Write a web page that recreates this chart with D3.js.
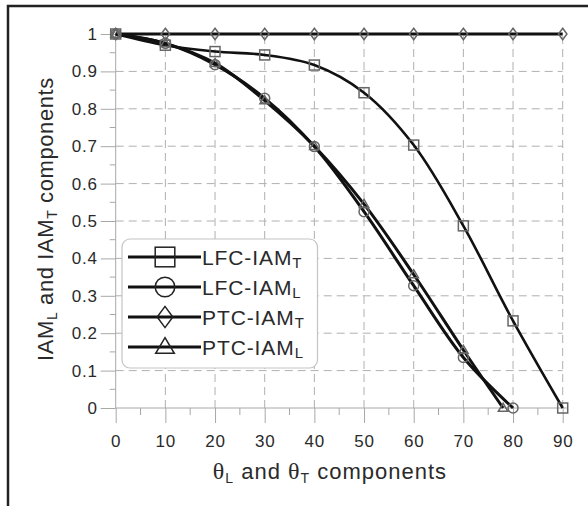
<!DOCTYPE html>
<meta charset="utf-8">
<style>
  body { margin: 0; background: #fff; }
  text { font-family: Arial, "Liberation Sans", sans-serif; fill: #2a2a2a; }
</style>
<body>
<svg width="588" height="506"></svg>
<script src="https://d3js.org/d3.v7.min.js"></script>
<script>
// data
const angles     = [0, 10, 20, 30, 40, 50, 60, 70, 80, 90];
const lfcT       = [1, 0.97, 0.953, 0.944, 0.917, 0.843, 0.703, 0.487, 0.233, 0];
const lfcLAngles = [0, 10, 20, 30, 40, 50, 60, 70, 80];
const lfcL       = [1, 0.975, 0.918, 0.828, 0.699, 0.525, 0.327, 0.135, 0];
const ptcT       = [1, 1, 1, 1, 1, 1, 1, 1, 1, 1];
const ptcLAngles = [0, 10, 20, 30, 40, 50, 60, 70, 78];
const ptcL       = [1, 0.975, 0.922, 0.822, 0.7, 0.545, 0.357, 0.155, 0];
const xTicks = [0, 10, 20, 30, 40, 50, 60, 70, 80, 90];
const yTicks = [0, 0.1, 0.2, 0.3, 0.4, 0.5, 0.6, 0.7, 0.8, 0.9, 1];

const svg = d3.select("svg");

// frame (only top and left edges are inside the picture)
svg.append("path")
  .attr("d", "M8,506V6H588")
  .attr("fill", "none")
  .attr("stroke", "#222")
  .attr("stroke-width", 2.5);

var x = d3.scaleLinear().domain([0, 90]).range([115.7, 562.7]);
var y = d3.scaleLinear().domain([0, 1]).range([408, 34]);

// grid
var grid = svg.append("g")
  .attr("stroke", "#b0b0b0")
  .attr("stroke-width", 1)
  .attr("stroke-dasharray", "8,5");
grid.selectAll("line.v")
  .data(xTicks.filter(d => d > 0))
  .enter().append("line")
    .attr("x1", d => x(d)).attr("x2", d => x(d))
    .attr("y1", y(0)).attr("y2", y(1));
grid.selectAll("line.h")
  .data(yTicks.filter(d => d > 0 && d < 1))
  .enter().append("line")
    .attr("x1", x(0)).attr("x2", x(90))
    .attr("y1", d => y(d)).attr("y2", d => y(d));

// axes
var xAxis = svg.append("g")
  .attr("transform", "translate(0," + y(0) + ")")
  .call(d3.axisBottom(x).tickValues(xTicks).tickSize(15).tickPadding(12).tickFormat(d3.format("d")));
xAxis.append("g").selectAll("line")
  .data(d3.range(5, 90, 10))
  .enter().append("line")
    .attr("x1", d => x(d)).attr("x2", d => x(d))
    .attr("y1", 0).attr("y2", 7);

var yAxis = svg.append("g")
  .attr("transform", "translate(" + x(0) + ",0)")
  .call(d3.axisLeft(y).tickValues(yTicks).tickSize(15).tickPadding(3).tickFormat(d => d === 0 || d === 1 ? d : d3.format(".1f")(d)));
yAxis.append("g").selectAll("line")
  .data(d3.range(0.05, 1, 0.1))
  .enter().append("line")
    .attr("x1", 0).attr("x2", -6)
    .attr("y1", d => y(d)).attr("y2", d => y(d));

[xAxis, yAxis].forEach(function(a) {
  a.attr("font-family", null);
  a.select(".domain").remove();
  a.selectAll("line").attr("stroke", "#a8a8a8");
  a.selectAll("text")
    .attr("fill", "#2a2a2a")
    .style("font-size", "17px")
    .style("letter-spacing", "0.8px");
});
svg.append("line")
  .attr("x1", x(0)).attr("x2", x(90) + 4)
  .attr("y1", y(0)).attr("y2", y(0))
  .attr("stroke", "#a8a8a8");
svg.append("line")
  .attr("x1", x(0)).attr("x2", x(0))
  .attr("y1", y(1)).attr("y2", y(0))
  .attr("stroke", "#a8a8a8");

// series
var series = [
  {name: "LFC-IAM", sub: "T", xs: angles,     ys: lfcT, shape: "square",   w: 2.6},
  {name: "LFC-IAM", sub: "L", xs: lfcLAngles, ys: lfcL, shape: "circle",   w: 3},
  {name: "PTC-IAM", sub: "T", xs: angles,     ys: ptcT, shape: "diamond",  w: 3},
  {name: "PTC-IAM", sub: "L", xs: ptcLAngles, ys: ptcL, shape: "triangle", w: 3}
];

var line = d3.line()
  .x(d => x(d[0]))
  .y(d => y(d[1]))
  .curve(d3.curveCatmullRom.alpha(0.5));

function marker(sel, shape, s) {
  // s = half size
  if (shape === "square") {
    sel.append("rect").attr("x", -s).attr("y", -s).attr("width", 2 * s).attr("height", 2 * s);
  } else if (shape === "circle") {
    sel.append("circle").attr("r", s);
  } else if (shape === "diamond") {
    sel.append("path").attr("d", "M0," + (-s * 1.15) + "L" + (s * 0.85) + ",0L0," + (s * 1.15) + "L" + (-s * 0.85) + ",0Z");
  } else {
    sel.append("path").attr("d", "M0," + (-s * 0.95) + "L" + (s * 0.95) + "," + (s * 0.65) + "L" + (-s * 0.95) + "," + (s * 0.65) + "Z");
  }
}

series.forEach(function(sr) {
  var pts = sr.xs.map((v, i) => [v, sr.ys[i]]);
  svg.append("path")
    .datum(pts)
    .attr("d", line)
    .attr("fill", "none")
    .attr("stroke", "#111")
    .attr("stroke-width", sr.w);
});

series.forEach(function(sr) {
  var pts = sr.xs.map((v, i) => [v, sr.ys[i]]);
  svg.append("g").selectAll("g")
    .data(pts)
    .enter().append("g")
      .attr("transform", d => "translate(" + x(d[0]) + "," + y(d[1]) + ")")
      .attr("fill", "none")
      .attr("stroke", "#666")
      .attr("stroke-width", 1.5)
      .each(function() { marker(d3.select(this), sr.shape, 5); });
});

// legend
var lg = svg.append("g");
lg.append("rect")
  .attr("x", 122).attr("y", 239)
  .attr("width", 195.5).attr("height", 129)
  .attr("rx", 8)
  .attr("fill", "#fff")
  .attr("stroke", "#c4c4c4")
  .attr("stroke-width", 1.2);

series.forEach(function(sr, i) {
  var cy = 257 + i * 30;
  var row = lg.append("g").attr("transform", "translate(0," + cy + ")");
  row.append("line")
    .attr("x1", 128).attr("x2", 201)
    .attr("y1", 0).attr("y2", 0)
    .attr("stroke", "#111").attr("stroke-width", 3);
  row.append("g")
    .attr("transform", "translate(165,0)")
    .attr("fill", "none")
    .attr("stroke", "#222")
    .attr("stroke-width", 1.5)
    .each(function() { marker(d3.select(this), sr.shape, sr.shape === "diamond" ? 9.2 : 9.8); });
  var t = row.append("text")
    .attr("x", 202).attr("y", 8)
    .style("font-size", "21px")
    .style("letter-spacing", "0.9px");
  t.append("tspan").text(sr.name);
  t.append("tspan").attr("dy", 3).style("font-size", "15px").text(sr.sub);
});

// axis titles
var xt = svg.append("text")
  .attr("x", 330).attr("y", 479)
  .attr("text-anchor", "middle")
  .style("font-size", "22px")
  .style("letter-spacing", "1px");
xt.append("tspan").style("font-family", "Liberation Serif, serif").style("font-size", "24px").text("θ");
xt.append("tspan").attr("dy", 4).style("font-size", "14px").text("L");
xt.append("tspan").attr("dy", -4).text(" and ");
xt.append("tspan").style("font-family", "Liberation Serif, serif").style("font-size", "24px").text("θ");
xt.append("tspan").attr("dy", 4).style("font-size", "14px").text("T");
xt.append("tspan").attr("dy", -4).text(" components");

var yt = svg.append("text")
  .attr("transform", "translate(53,219) rotate(-90)")
  .attr("text-anchor", "middle")
  .style("font-size", "22px")
  .style("letter-spacing", "0.6px");
yt.append("tspan").text("IAM");
yt.append("tspan").attr("dy", 4).style("font-size", "14px").text("L");
yt.append("tspan").attr("dy", -4).text(" and IAM");
yt.append("tspan").attr("dy", 4).style("font-size", "14px").text("T");
yt.append("tspan").attr("dy", -4).text(" components");
</script>
</body>
